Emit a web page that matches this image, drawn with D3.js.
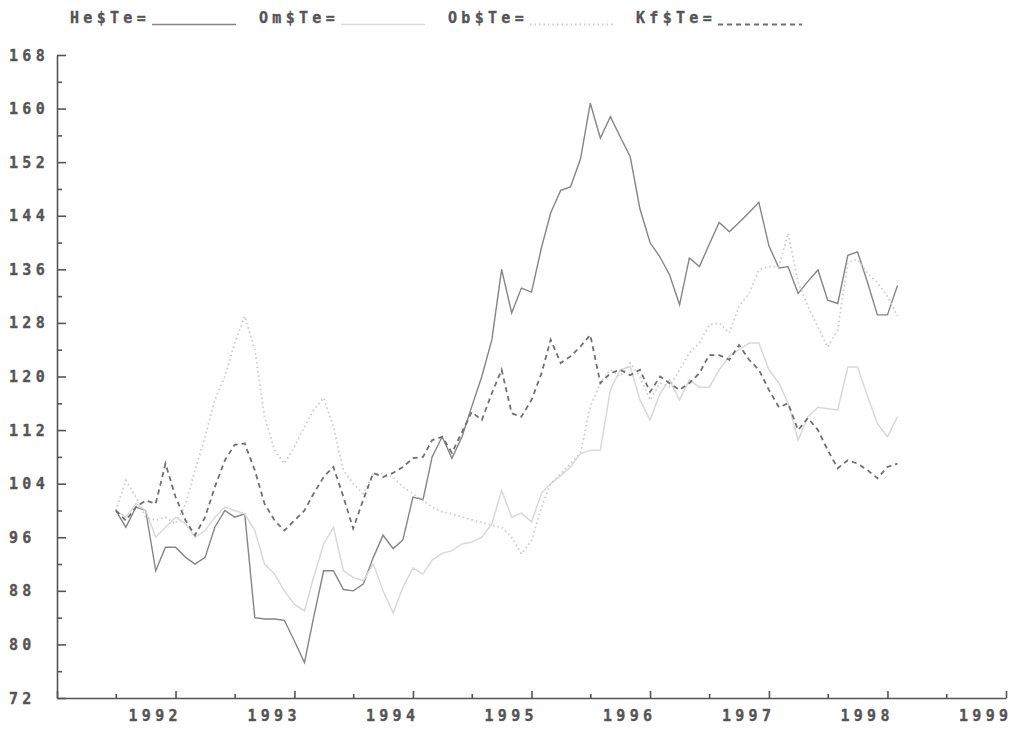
<!DOCTYPE html>
<html>
<head>
<meta charset="utf-8">
<script src="https://cdn.jsdelivr.net/npm/d3@7"></script>
<style>
  body { margin: 0; background: #fff; }
  text { font-family: "DejaVu Sans Mono", monospace; font-weight: bold; fill: #555; stroke: #555; stroke-width: 0.35px; }
</style>
</head>
<body>
<div id="chart"></div>
<script>
// Chart size
var svgWidth = 1018;
var svgHeight = 729;

// Series names (legend)
var seriesNames = ["He$Te=", "Om$Te=", "Ob$Te=", "Kf$Te="];

// Monthly observations, Jul 1991 .. Feb 1998
var months = d3.timeMonth.range(new Date(1991, 6, 1), new Date(1998, 2, 1));

var heValues = [100, 97.5, 100.5, 100, 91, 94.5, 94.5, 93, 92, 93,
  97.5, 100, 99, 99.5, 84, 83.8, 83.8, 83.6, 80.5, 77.3,
  84, 91, 91, 88.2, 88, 89, 93, 96.3, 94.3, 95.6,
  102, 101.6, 108, 111, 107.8, 111, 115.5, 120, 125.5, 136,
  129.5, 133.2, 132.6, 139.3, 144.4, 147.8, 148.3, 152.5, 160.8, 155.6,
  158.8, 155.8, 152.8, 145, 140, 137.8, 135.2, 130.7, 137.7, 136.4,
  139.7, 143, 141.6, 143, 144.5, 146, 139.5, 136.2, 136.4, 132.4,
  134.2, 135.9, 131.4, 130.9, 138.1, 138.6, 134, 129.2, 129.2, 133.6];

var omValues = [100, 99, 101, 100, 96, 97.5, 99, 98, 96, 97,
  99, 100.5, 100, 99.5, 97, 92, 90.5, 88, 86, 85,
  90, 95, 97.5, 91, 90, 89.5, 92, 88, 84.7, 88.5,
  91.4, 90.5, 92.6, 93.6, 94, 95, 95.3, 96, 98, 103,
  99, 99.6, 98.3, 102.6, 104, 105.2, 106.5, 108.5, 109, 109,
  118, 121, 121.5, 116.5, 113.5, 117.5, 119.5, 116.5, 119.5, 118.4,
  118.4, 121, 123, 124, 125, 125, 121, 119, 116, 110.5,
  114, 115.4, 115.2, 115, 121.4, 121.4, 117, 113, 111, 114];

var obValues = [100, 104.5, 102, 99, 98.5, 99, 98, 101, 106, 111,
  116.5, 120, 125, 129, 124, 114, 109, 107, 109.5, 112.5,
  115, 116.8, 112.5, 106, 104, 102.5, 105.5, 105.5, 105, 103.5,
  102.5, 101.5, 100.5, 99.8, 99.5, 99, 98.6, 98.2, 97.8, 97.5,
  96, 93.5, 95.5, 100.5, 104, 105.5, 107, 108.6, 115.5, 119,
  121, 120, 122, 120, 116.5, 119, 118.5, 121, 123.5, 125,
  127.7, 128, 126.5, 130.5, 132.4, 135.9, 136.4, 136.4, 141.4, 134,
  130.5, 127.4, 124.4, 127, 137, 137.5, 135.4, 134, 132, 129];

var kfValues = [100, 98.5, 100.5, 101.5, 101, 107, 102, 98.5, 96.3, 99,
  103.5, 107.5, 109.8, 110, 106, 101, 98.5, 97, 98.5, 100,
  102.5, 105, 106.5, 102, 97.3, 101.6, 105.6, 105, 105.6, 106.5,
  107.8, 108, 110.5, 111, 108.6, 111.7, 114.7, 113.5, 117.5, 121,
  114.5, 114, 116.5, 120.5, 125.5, 122, 123, 124.5, 126.2, 119,
  120.5, 121, 120.2, 121, 117.7, 120, 119, 118, 119, 120.5,
  123.2, 123.2, 122.5, 124.7, 122.5, 121, 118, 115.4, 116, 112,
  113.8, 112, 109, 106.3, 107.5, 107, 106, 104.8, 106.5, 107];

// Axis ticks
var yearTicks = [1991, 1992, 1993, 1994, 1995, 1996, 1997, 1998, 1999];
var yearLabels = ["1992", "1993", "1994", "1995", "1996", "1997", "1998", "1999"];
var yTicks = [72, 80, 88, 96, 104, 112, 120, 128, 136, 144, 152, 160, 168];
var yMinorTicks = [76, 84, 92, 100, 108, 116, 124, 132, 140, 148, 156, 164];

var seriesValues = [heValues, omValues, obValues, kfValues];
var seriesStyle = [
  { color: "#858585", width: 1.4, dash: null },
  { color: "#d9d9d9", width: 1.5, dash: null },
  { color: "#cacaca", width: 1.8, dash: "1.5,3" },
  { color: "#707070", width: 1.8, dash: "5,4" }
];

var svg = d3.select("#chart")
  .append("svg")
  .attr("width", svgWidth)
  .attr("height", svgHeight);

// Scales
var xScale = d3.scaleTime()
  .domain([new Date(1991, 0, 1), new Date(1999, 0, 1)])
  .range([57, 1006]);

var yScale = d3.scaleLinear()
  .domain([72, 168])
  .range([698, 55]);

// Lines
var line = d3.line()
  .x(function(d) { return xScale(d.date); })
  .y(function(d) { return yScale(d.value); });

seriesValues.forEach(function(values, i) {
  var points = months.map(function(m, j) { return { date: m, value: values[j] }; });
  svg.append("path")
    .datum(points)
    .attr("fill", "none")
    .attr("stroke", seriesStyle[i].color)
    .attr("stroke-width", seriesStyle[i].width)
    .attr("stroke-dasharray", seriesStyle[i].dash)
    .attr("d", line);
});

// Y axis: major and minor ticks pointing inward
svg.append("g")
  .attr("transform", "translate(57,0)")
  .call(d3.axisLeft(yScale).tickValues(yTicks).tickSize(-9).tickSizeOuter(0).tickFormat(""));
svg.append("g")
  .attr("transform", "translate(57,0)")
  .call(d3.axisLeft(yScale).tickValues(yMinorTicks).tickSize(-5).tickFormat(""))
  .select(".domain").remove();

// X axis
svg.append("g")
  .attr("transform", "translate(0,698)")
  .call(d3.axisBottom(xScale)
    .tickValues(yearTicks.map(function(y) { return new Date(y, 0, 1); }))
    .tickSize(-7).tickSizeOuter(0).tickFormat(""));
svg.append("g")
  .attr("transform", "translate(0,698)")
  .call(d3.axisBottom(xScale)
    .tickValues(yearTicks.slice(0, -1).map(function(y) { return new Date(y, 6, 1); }))
    .tickSize(-4).tickFormat(""))
  .select(".domain").remove();

svg.selectAll(".domain, .tick line")
  .attr("stroke", "#555")
  .attr("stroke-width", 1.6);

// Tick labels
svg.selectAll(".ylabel")
  .data(yTicks)
  .enter()
  .append("text")
  .attr("x", 9)
  .attr("y", function(d) { return yScale(d) + 5.5; })
  .attr("font-size", "15px")
  .attr("letter-spacing", "4.3px")
  .text(function(d) { return d; });

svg.selectAll(".xlabel")
  .data(yearLabels)
  .enter()
  .append("text")
  .attr("x", function(d) { return xScale(new Date(+d, 0, 1)) - 47; })
  .attr("y", 721)
  .attr("font-size", "15px")
  .attr("letter-spacing", "4.3px")
  .text(function(d) { return d; });

// Legend
var legendX = [70, 259, 448, 636];
seriesNames.forEach(function(name, i) {
  svg.append("text")
    .attr("x", legendX[i])
    .attr("y", 23)
    .attr("font-size", "15px")
    .attr("letter-spacing", "4.3px")
    .text(name);
  svg.append("line")
    .attr("x1", legendX[i] + 82)
    .attr("x2", legendX[i] + 166)
    .attr("y1", 24.5)
    .attr("y2", 24.5)
    .attr("stroke", seriesStyle[i].color)
    .attr("stroke-width", seriesStyle[i].width)
    .attr("stroke-dasharray", seriesStyle[i].dash);
});
</script>
</body>
</html>
